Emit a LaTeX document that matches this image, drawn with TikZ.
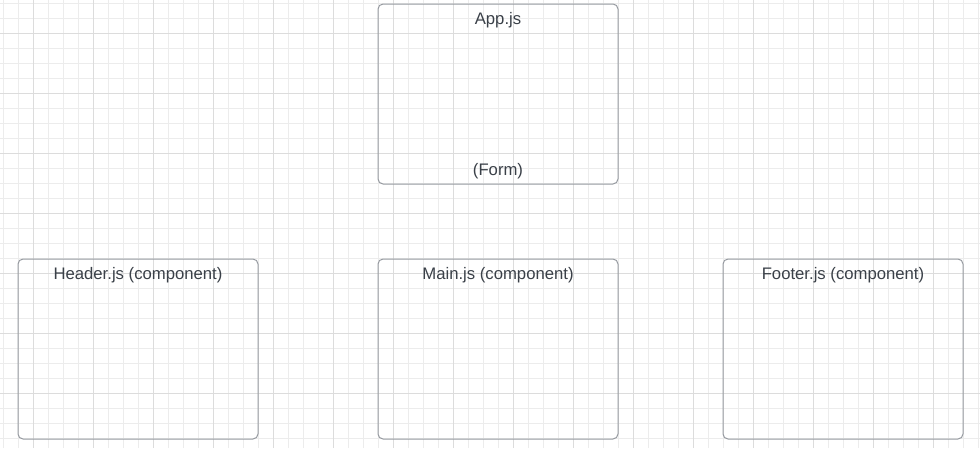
\documentclass[tikz,border=0pt]{standalone}
\usepackage{fontspec}
\setmainfont{Liberation Sans}
\definecolor{gridminor}{RGB}{236,236,236}
\definecolor{gridmajor}{RGB}{220,220,220}
\definecolor{boxline}{RGB}{150,154,160}
\definecolor{txt}{RGB}{58,64,72}
\begin{document}
\begin{tikzpicture}[x=1pt,y=-1pt,
  compbox/.style={draw=boxline, line width=1pt, rounded corners=5pt, minimum width=240pt, minimum height=180pt, inner sep=0pt},
  lbl/.style={text=txt, font=\fontsize{16.7}{19}\selectfont, inner sep=0pt, anchor=base}]
\fill[white] (0,0) rectangle (980,448);
\useasboundingbox (0,0) rectangle (980,448);
% grid
\foreach \x in {3.5,18.5,...,979} \draw[gridminor, line width=1pt] (\x,0) -- (\x,448);
\foreach \y in {3.5,18.5,...,448} \draw[gridminor, line width=1pt] (0,\y) -- (980,\y);
\foreach \x in {33.5,93.5,...,979} \draw[gridmajor, line width=1pt] (\x,0) -- (\x,448);
\foreach \y in {33.5,93.5,...,448} \draw[gridmajor, line width=1pt] (0,\y) -- (980,\y);
% boxes
\node[compbox] (app) at (498,94) {};
\node[compbox] (header) at (138,349) {};
\node[compbox] (main) at (498,349) {};
\node[compbox] (footer) at (843,349) {};
% labels
\node[lbl] (applbl) at (498,24) {App.js};
\node[lbl] (formlbl) at (498,175.5) {(Form)};
\node[lbl] (headerlbl) at (138,279.3) {Header.js (component)};
\node[lbl] (mainlbl) at (498,279.3) {Main.js (component)};
\node[lbl] (footerlbl) at (843,279.3) {Footer.js (component)};
\end{tikzpicture}
\end{document}
